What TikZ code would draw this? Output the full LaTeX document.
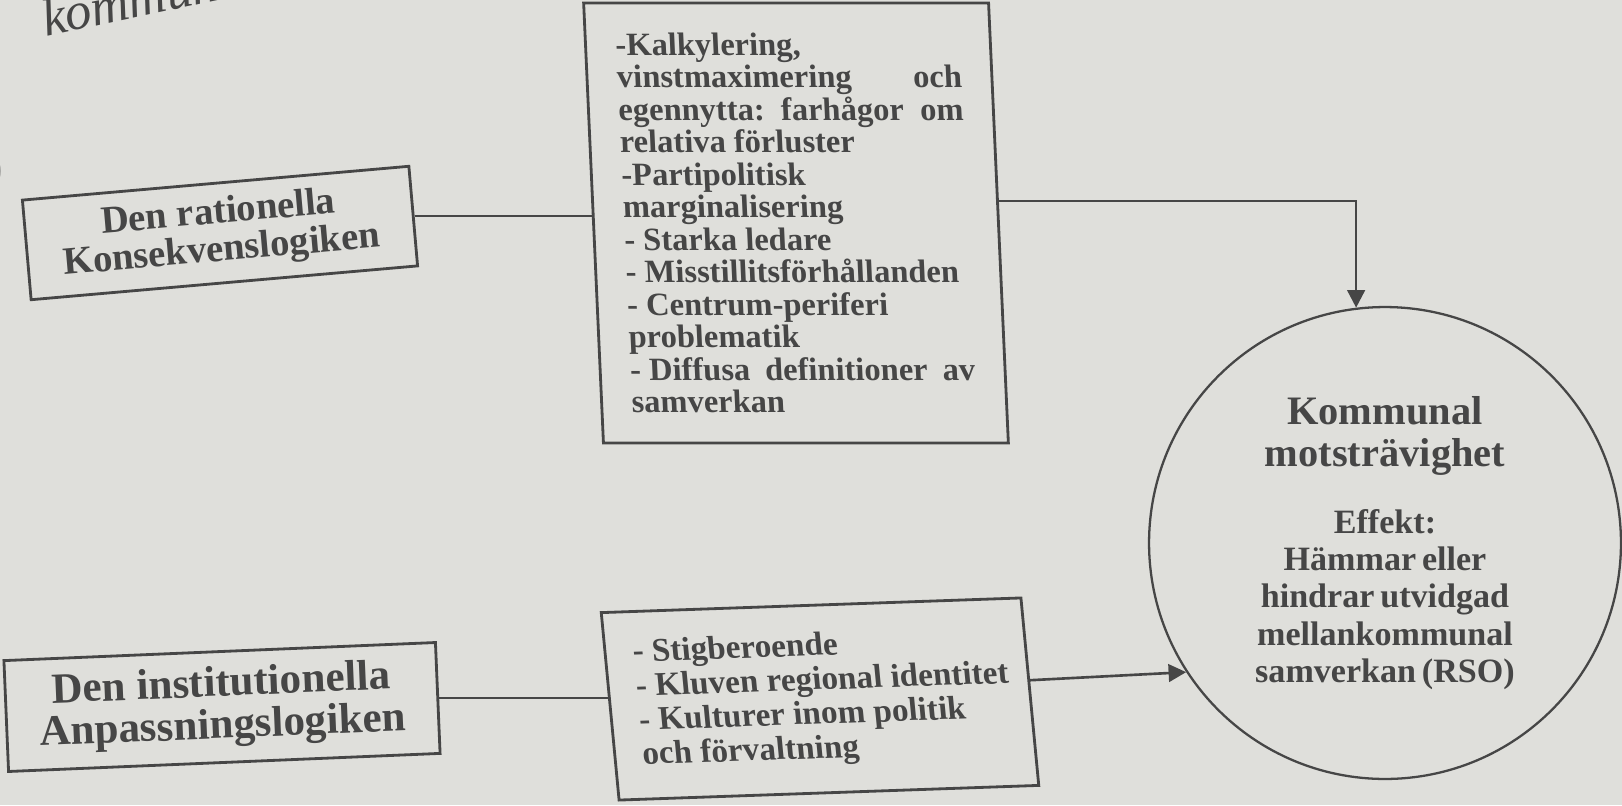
\documentclass[tikz,border=0pt]{standalone}
\usepackage{fontspec}
\setmainfont{Liberation Serif}
\usetikzlibrary{arrows.meta,calc}

\definecolor{paper}{RGB}{223,223,219}
\definecolor{ink}{RGB}{70,70,70}

\tikzset{
  logicbox/.style={draw=ink, line width=1.6pt, text=ink, align=center, inner sep=0pt,
    font=\bfseries\fontsize{22}{21.5}\selectfont},
  listbox/.style={draw=ink, line width=1.6pt, text=ink, align=flush left, inner sep=0pt,
    font=\bfseries\fontsize{18.5}{18.5}\selectfont},
  effect/.style={circle, draw=ink, line width=1.3pt, text=ink, align=center, inner sep=0pt,
    font=\bfseries},
  link/.style={draw=ink, line width=1.5pt},
  flow/.style={link, -{Triangle[length=10pt,width=10pt]}}
}

\begin{document}
\begin{tikzpicture}[x=0.02cm, y=-0.02cm]
\useasboundingbox (0,0) rectangle (1622,805);
\fill[paper] (0,0) rectangle (1622,805);

\begin{scope}
\clip (0,0) rectangle (1622,805);

% page text cut off by the photo
\node[text=ink, anchor=base west, rotate=12, font=\itshape\fontsize{30}{30}\selectfont] (pagetext) at (40,38) {kommuner};
\node[text=ink!70!black, anchor=east, font=\bfseries\fontsize{40}{40}\selectfont] (paren) at (10,172) {)};

% the two logics
\node[logicbox, minimum width=7.76cm, minimum height=2cm, rotate=5] (rational) at (220,233) {Den rationella\\Konsekvenslogiken};
\node[logicbox, font=\bfseries\fontsize{24.5}{24}\selectfont, minimum width=8.64cm, minimum height=2.22cm, rotate=2.4] (institutional) at (222,707) {Den institutionella\\Anpassningslogiken};

% mechanisms
\node[listbox, minimum width=8.1cm, minimum height=8.8cm, text width=6.9cm, xslant=-0.045] (costs) at (796,223) {-Kalkylering,\\
vinstmaximering\hfill och\\
egennytta:\hfill farhågor\hfill om\\
relativa förluster\\
-Partipolitisk\\
marginalisering\\
- Starka ledare\\
- Misstillitsförhållanden\\
- Centrum-periferi\\
problematik\\
- Diffusa\hfill definitioner\hfill av\\
samverkan};
\node[listbox, font=\bfseries\fontsize{18.9}{19.5}\selectfont, minimum width=8.4cm, minimum height=3.76cm, text width=7.8cm, rotate=2, xslant=-0.06] (culture) at (820,699) {\leftskip=0.25cm
- Stigberoende\\
- Kluven regional identitet\\
- Kulturer inom politik\\
och förvaltning\par};

% outcome
\node[effect, minimum size=9.44cm, text width=5.4cm] (resistance) at (1385,543) {{\fontsize{23}{24}\selectfont Kommunal\\motsträvighet\par}\vspace{16.7pt}{\fontsize{19.4}{21.3}\selectfont Effekt:\\Hämmar eller\\hindrar utvidgad\\mellankommunal\\samverkan (RSO)\par}};

\draw[link] (rational.east) -- (rational.east -| costs.west);
\draw[link] (institutional.east) -- (institutional.east -| culture.west);
\draw[flow] ($(costs.north east)!0.45!(costs.south east)$) -| (resistance.97);
\draw[flow] ($(culture.north east)!0.44!(culture.south east)$) -- (resistance.213);

\end{scope}

\end{tikzpicture}
\end{document}
